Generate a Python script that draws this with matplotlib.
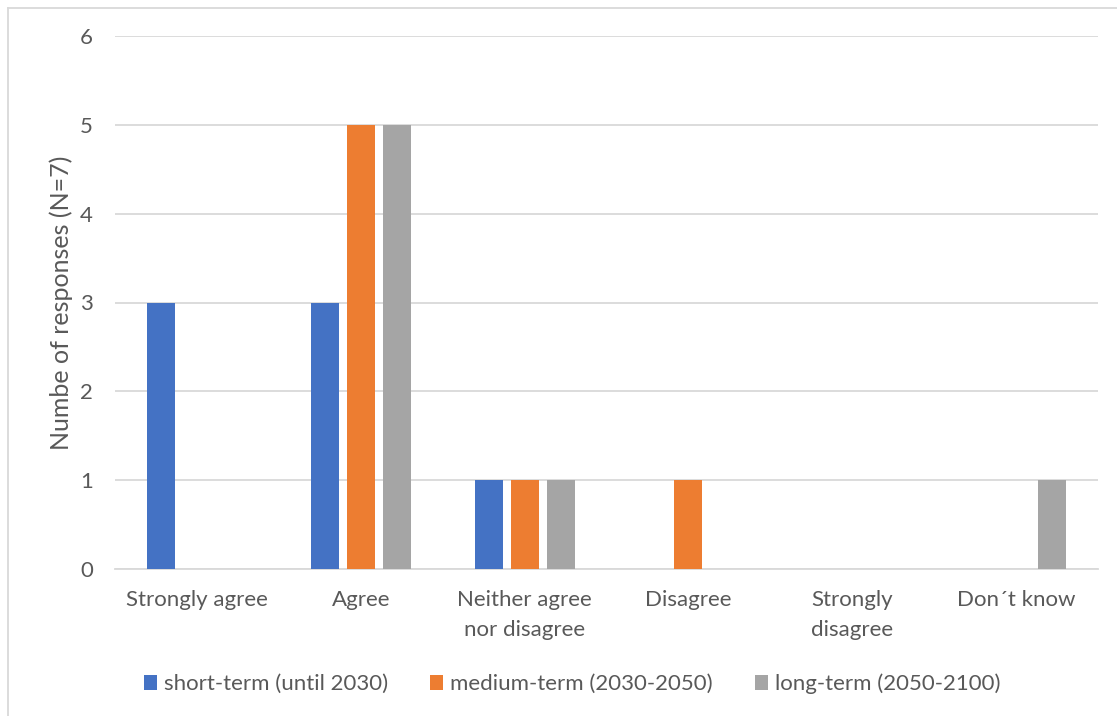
import matplotlib

matplotlib.use("Agg")
import matplotlib.pyplot as plt
import numpy as np
from matplotlib.lines import Line2D
from matplotlib.patches import Patch

categories = ["Strongly agree", "Agree", "Neither agree\nnor disagree", "Disagree",
              "Strongly\ndisagree", "Don\u00b4t know"]
short_term = [3, 3, 1, 0, 0, 0]
medium_term = [0, 5, 1, 1, 0, 0]
long_term = [0, 5, 1, 0, 0, 1]
series_names = ["short-term (until 2030)", "medium-term (2030-2050)", "long-term (2050-2100)"]
colors = ["#4472C4", "#ED7D31", "#A5A5A5"]
text_color = "#595959"

plt.rcParams["font.family"] = ["Lato", "DejaVu Sans"]

W, H = 1117, 716
fig = plt.figure(figsize=(W / 100, H / 100), dpi=100)
ax = fig.add_axes([115 / W, 1 - 569 / H, (1098 - 115) / W, (569 - 36) / H])

x = np.arange(len(categories))
width = 0.171
offset = 0.22
for i, (vals, name, col) in enumerate(zip([short_term, medium_term, long_term], series_names, colors)):
    ax.bar(x + (i - 1) * offset, vals, width, color=col, label=name, zorder=3)

ax.set_xlim(-0.5, len(categories) - 0.5)
ax.set_ylim(0, 6)
ax.set_yticks(range(0, 7))
ax.set_xticks(x)
ax.set_xticklabels(categories, fontsize=16, color=text_color, linespacing=1.62, va="top")
ax.tick_params(axis="y", labelsize=16, labelcolor=text_color, length=0, pad=16)
ax.tick_params(axis="x", length=0, pad=15)
ax.yaxis.grid(True, color="#D9D9D9", linewidth=1.3, zorder=0)
for side in ["top", "right", "left"]:
    ax.spines[side].set_visible(False)
ax.spines["bottom"].set_color("#D9D9D9")
ax.spines["bottom"].set_linewidth(1.3)
ax.set_ylabel("Numbe of responses (N=7)", fontsize=18, color=text_color, labelpad=5)

handles = [Patch(facecolor=c, edgecolor="none") for c in colors]
fig.legend(handles, series_names, loc="center", bbox_to_anchor=(572 / W, 1 - 684 / H),
           ncol=3, frameon=False, fontsize=16, labelcolor=text_color,
           handlelength=0.6, handleheight=0.6, handletextpad=0.3, columnspacing=1.9)

# outer chart border (top and left visible)
fig.add_artist(Line2D([7.5 / W, 7.5 / W], [0, 1 - 7.5 / H], transform=fig.transFigure,
                      color="#D9D9D9", linewidth=1.3))
fig.add_artist(Line2D([7.5 / W, 1], [1 - 7.5 / H, 1 - 7.5 / H], transform=fig.transFigure,
                      color="#D9D9D9", linewidth=1.3))

fig.savefig("out.png", dpi=100)
plt.close(fig)
